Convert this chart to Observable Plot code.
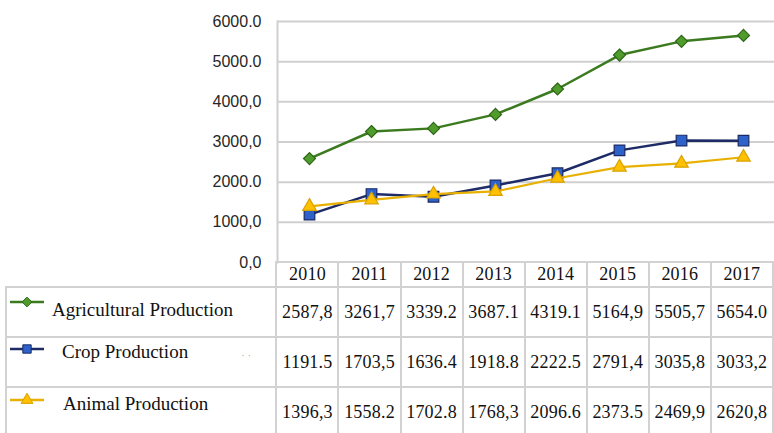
<!DOCTYPE html>
<html><head><meta charset="utf-8">
<script src="https://cdn.jsdelivr.net/npm/d3@7"></script>
<script src="https://cdn.jsdelivr.net/npm/@observablehq/plot@0.6"></script>
<style>
body{margin:0;background:#fff}
#wrap{position:relative;width:774px;height:433px;overflow:hidden;background:#fff}
#wrap svg.chart{position:absolute;left:0;top:0}
#tbl{position:absolute;left:5px;top:261px;border-collapse:collapse;table-layout:fixed;
  font-family:"Liberation Serif","Times New Roman",serif;font-size:18px;color:#111;background:transparent}
#tbl td{border:2px solid #d2d2d2;text-align:center;vertical-align:middle;padding:0;white-space:nowrap;letter-spacing:0.2px}
#tbl tr.hdr td{height:23px}
#tbl tr.row td{height:48px}
#tbl td.blank{border-left:none;border-top:none}
.leg{position:absolute;font-family:"Liberation Serif","Times New Roman",serif;font-size:19px;color:#111;white-space:nowrap;line-height:1}
.sw{position:absolute}
</style></head>
<body><div id="wrap"></div>
<script>
const years = ["2010","2011","2012","2013","2014","2015","2016","2017"];
const seriesNames = ["Agricultural Production","Crop Production","Animal Production"];
const agriLabels   = ["2587,8","3261,7","3339.2","3687.1","4319.1","5164,9","5505,7","5654.0"];
const cropLabels   = ["1191.5","1703,5","1636.4","1918.8","2222.5","2791,4","3035,8","3033,2"];
const animalLabels = ["1396,3","1558.2","1702.8","1768,3","2096.6","2373.5","2469,9","2620,8"];
const yTicks = [0,1000,2000,3000,4000,5000,6000];
const yTickLabels = ["0,0","1000,0","2000.0","3000,0","4000,0","5000.0","6000.0"];

const toNum = s => +s.replace(",", ".");
const agri = agriLabels.map(toNum);
const crop = cropLabels.map(toNum);
const animal = animalLabels.map(toNum);

const styles = [
  {line:"#3b7a1f", fill:"#4f9b2c", stroke:"#2d6616", symbol:"diamond2", r:5.4, lw:2.5},
  {line:"#1d2b66", fill:"#2c62c9", stroke:"#1a2a66", symbol:"square", r:6.0, lw:2.5},
  {line:"#e8b000", fill:"#ffc000", stroke:"#d9a200", symbol:"triangle", r:5.0, lw:2.2}
];
const seriesVals = [agri, crop, animal];
const rows = seriesVals.map((vals, s) => years.map((year, i) => ({series: seriesNames[s], year, value: vals[i]})));

const marks = [
  Plot.ruleY(yTicks.filter(d => d > 0), {stroke:"#d0d0d0", strokeWidth:2}),
  Plot.frame({anchor:"left", stroke:"#cfcfcf", strokeWidth:2}),
  Plot.axisY({ticks: yTicks, tickFormat: d => yTickLabels[yTicks.indexOf(d)], tickSize:0, tickPadding:16,
    fontSize:16, fill:"#262626", label:null})
];
rows.forEach((data, s) => {
  const st = styles[s];
  marks.push(Plot.line(data, {x:"year", y:"value", stroke:st.line, strokeWidth:st.lw}));
  marks.push(Plot.dot(data, {x:"year", y:"value", symbol:()=>st.symbol, r:st.r, fill:st.fill, stroke:st.stroke, strokeWidth:1.2}));
});

const chart = Plot.plot({
  width:774, height:433,
  marginLeft:277, marginRight:0, marginTop:21, marginBottom:171,
  style:{fontFamily:"Liberation Sans, Arial, sans-serif", fontSize:"16px", background:"transparent", overflow:"visible"},
  x:{type:"point", domain:years, padding:0.5, axis:null},
  y:{domain:[0,6000], axis:null},
  symbol:{type:"identity"},
  marks
});
chart.classList.add("chart");
const wrap = document.getElementById("wrap");
wrap.appendChild(chart);

// data table
const colW = (774 - 277) / years.length;
let html = '<colgroup><col style="width:272px">' + years.map(() => `<col style="width:${colW}px">`).join("") + '</colgroup>';
html += '<tr class="hdr"><td class="blank"></td>' + years.map(y => `<td>${y}</td>`).join("") + '</tr>';
[agriLabels, cropLabels, animalLabels].forEach(lbls => {
  html += '<tr class="row"><td></td>' + lbls.map(v => `<td>${v}</td>`).join("") + '</tr>';
});
const tbl = document.createElement("table");
tbl.id = "tbl";
tbl.innerHTML = html;
wrap.appendChild(tbl);

// legend keys inside the table's first column
const legPos = [
  {ky:302, tx:52, ty:310},
  {ky:349, tx:62, ty:352},
  {ky:400, tx:63, ty:404}
];
const legSizes = [60, 70, 60];
seriesNames.forEach((name, s) => {
  const st = styles[s], p = legPos[s];
  const svg = d3.create("svg").attr("class","sw").attr("width",40).attr("height",16)
    .style("left","8px").style("top",(p.ky-8)+"px");
  svg.append("line").attr("x1",2).attr("x2",36).attr("y1",8).attr("y2",8).attr("stroke",st.line).attr("stroke-width",2.5);
  const sym = {diamond2:d3.symbolDiamond2, square:d3.symbolSquare, triangle:d3.symbolTriangle}[st.symbol];
  svg.append("path").attr("d", d3.symbol(sym, legSizes[s])()).attr("transform","translate(19,8)")
    .attr("fill",st.fill).attr("stroke",st.stroke).attr("stroke-width",1);
  wrap.appendChild(svg.node());
  const t = document.createElement("div");
  t.className = "leg";
  t.textContent = name;
  t.style.left = p.tx + "px";
  t.style.top = (p.ty - 10) + "px";
  wrap.appendChild(t);
});
const dots = document.createElement("div");
dots.className = "leg";
dots.style.cssText = "left:241px;top:350px;font-size:11px;color:#aaa";
dots.textContent = "· ·";
wrap.appendChild(dots);
</script>
</body></html>
